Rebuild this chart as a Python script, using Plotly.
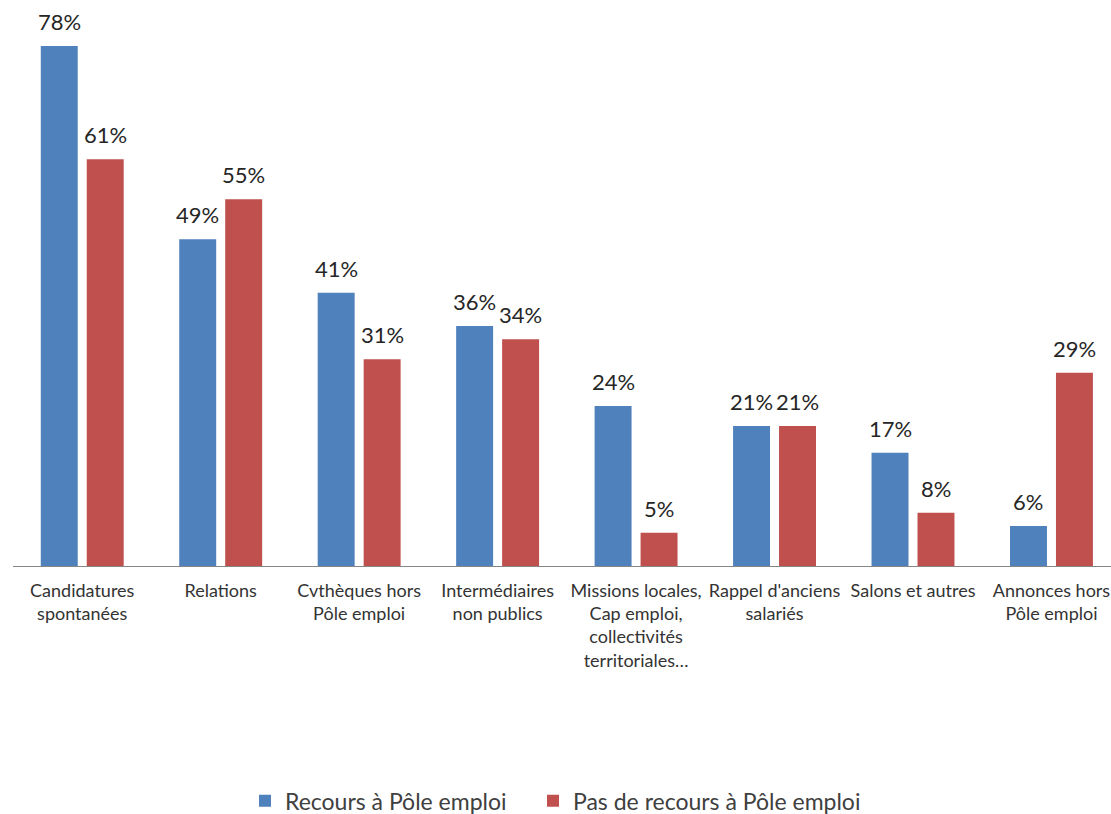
import plotly.graph_objects as go

categories = [
    "Candidatures<br>spontanées",
    "Relations",
    "Cvthèques hors<br>Pôle emploi",
    "Intermédiaires<br>non publics",
    "Missions locales,<br>Cap emploi,<br>collectivités<br>territoriales…",
    "Rappel d'anciens<br>salariés",
    "Salons et autres",
    "Annonces hors<br>Pôle emploi",
]
recours = [78, 49, 41, 36, 24, 21, 17, 6]
pas_recours = [61, 55, 31, 34, 5, 21, 8, 29]
series_names = ["Recours à Pôle emploi", "Pas de recours à Pôle emploi"]

BLUE = "#4F81BD"
RED = "#C0504D"
FONT = "Lato, Carlito, 'Open Sans', sans-serif"

fig = go.Figure()
fig.add_trace(go.Bar(x=categories, y=recours, name=series_names[0],
                     marker=dict(color=BLUE, line=dict(width=0)),
                     legend="legend"))
fig.add_trace(go.Bar(x=categories, y=pas_recours, name=series_names[1],
                     marker=dict(color=RED, line=dict(width=0)),
                     legend="legend2"))

annotations = []
for vals, shift in ((recours, -23), (pas_recours, 23)):
    for c, v in zip(categories, vals):
        annotations.append(dict(
            x=c, y=v, xref="x", yref="y", text=f"{v}%", showarrow=False,
            xshift=shift, yshift=9, yanchor="bottom", xanchor="center",
            font=dict(size=22, color="#262626", family=FONT)))

legend_common = dict(orientation="h", xanchor="left", y=-0.415,
                     yanchor="middle", font=dict(size=23, color="#404040"),
                     bgcolor="rgba(0,0,0,0)")

fig.update_layout(
    width=1111, height=814,
    margin=dict(l=13, r=0, t=0, b=248, autoexpand=False),
    paper_bgcolor="white", plot_bgcolor="white",
    barmode="group", bargap=0.336, bargroupgap=0.196,
    font=dict(family=FONT, color="#404040"),
    annotations=annotations,
    showlegend=True,
    legend=dict(x=(245 - 13) / 1098, **legend_common),
    legend2=dict(x=(533 - 13) / 1098, **legend_common),
    xaxis=dict(range=[-0.5, 7.43], showline=True, linecolor="#868686",
               linewidth=1, ticks="", tickfont=dict(size=18, color="#333333"),
               ticklabelstandoff=8,
               showgrid=False, zeroline=False, fixedrange=True),
    yaxis=dict(range=[0, 84.9], visible=False, showgrid=False,
               zeroline=False, fixedrange=True),
)

fig.write_html("out.html", config={"displayModeBar": False},
               post_script="document.body.style.margin='0';document.body.style.overflow='hidden';")
